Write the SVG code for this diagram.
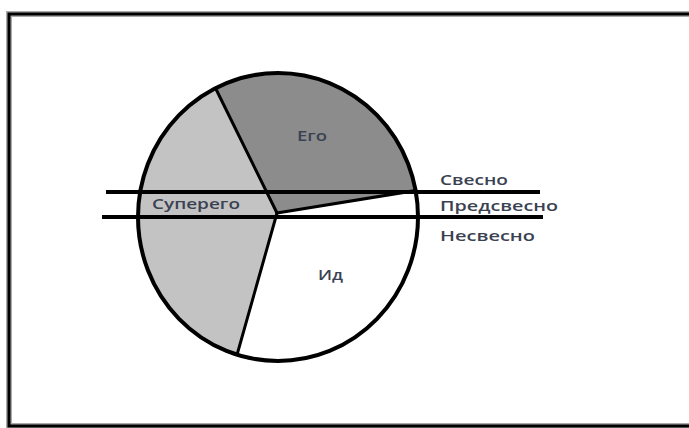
<svg xmlns="http://www.w3.org/2000/svg" width="689" height="428" viewBox="0 0 689 428">
<style>
  .lbl { font-family: "Open Sans", "Liberation Sans", sans-serif; font-size: 15px; font-weight: 600; fill: #3a4252; }
  .div { stroke: #000; stroke-width: 3; fill: none; stroke-linecap: round; }
  .hline { stroke: #000; stroke-width: 4; stroke-linecap: butt; }
</style>
<defs>
  <clipPath id="oval"><ellipse cx="278" cy="217" rx="140" ry="144"/></clipPath>
</defs>
<rect width="689" height="428" fill="#fff"/>
<g id="frame">
  <rect x="9" y="14" width="700" height="412" fill="none" stroke="#aaa" stroke-width="6"/>
  <rect x="9" y="14" width="700" height="412" fill="none" stroke="#000" stroke-width="3"/>
</g>
<g id="id">
  <ellipse cx="278" cy="217" rx="140" ry="144" fill="#fff"/>
</g>
<g id="superego">
  <polygon points="277,213 187,31 60,31 60,420 218,421" fill="#c3c3c3" clip-path="url(#oval)"/>
</g>
<g id="ego">
  <polygon points="277,213 187,31 520,31 520,171" fill="#8c8c8c" clip-path="url(#oval)"/>
</g>
<g id="connectors">
  <g clip-path="url(#oval)">
    <line class="div" x1="277" y1="213" x2="212" y2="81"/>
    <line class="div" x1="277" y1="213" x2="425" y2="189"/>
    <line class="div" x1="277" y1="213" x2="235" y2="362"/>
  </g>
  <line class="hline" x1="106" y1="192" x2="540" y2="192"/>
  <line class="hline" x1="102" y1="217" x2="543" y2="217"/>
  <ellipse cx="278" cy="217" rx="140" ry="144" fill="none" stroke="#000" stroke-width="4"/>
</g>
<g id="labels">
  <text class="lbl" x="297" y="141" textLength="30" lengthAdjust="spacingAndGlyphs">Его</text>
  <text class="lbl" x="152" y="209" textLength="88" lengthAdjust="spacingAndGlyphs">Суперего</text>
  <text class="lbl" x="318" y="280" textLength="25" lengthAdjust="spacingAndGlyphs">Ид</text>
  <text class="lbl" x="440" y="185" textLength="68" lengthAdjust="spacingAndGlyphs">Свесно</text>
  <text class="lbl" x="440" y="211" textLength="118" lengthAdjust="spacingAndGlyphs">Предсвесно</text>
  <text class="lbl" x="440" y="241" textLength="95" lengthAdjust="spacingAndGlyphs">Несвесно</text>
</g>
</svg>
